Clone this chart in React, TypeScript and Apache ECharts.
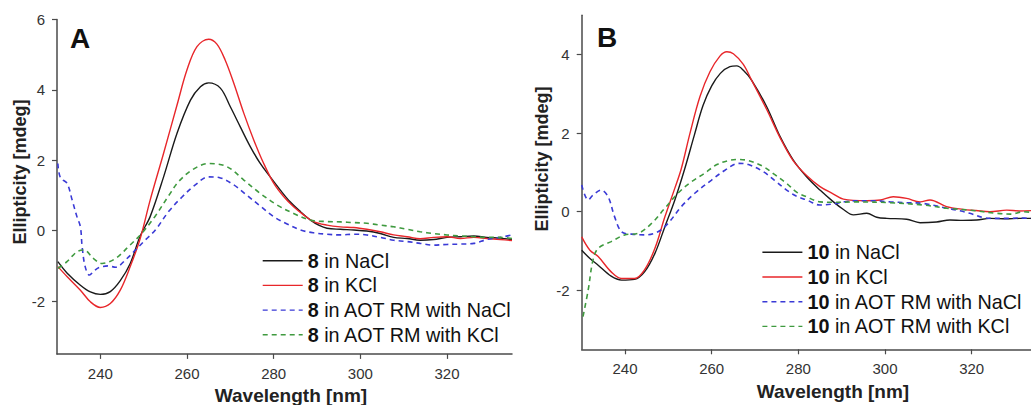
import React, { useEffect, useRef } from "react";
import * as echarts from "echarts";

// ---------- Panel A (compound 8) ----------
const wlA_NaCl = [230.2, 232.3, 235.4, 237.7, 240, 242.3, 244.6, 246.9, 249.2, 251.5, 254.6, 257.7, 260.8, 263.1, 265, 267.7, 270, 272.3, 274.6, 276.9, 279.2, 281.5, 283.8, 286.2, 288.5, 290.5, 292.3, 295.4, 298.5, 301.5, 304.6, 307.7, 310.8, 313.8, 316.9, 320, 323.1, 326.2, 329.2, 332.3, 335];
const valA_NaCl = [-0.88, -1.2, -1.55, -1.74, -1.81, -1.73, -1.42, -0.93, -0.15, 0.4, 1.53, 2.77, 3.71, 4.09, 4.2, 4.05, 3.52, 2.95, 2.39, 1.91, 1.53, 1.16, 0.82, 0.54, 0.3, 0.15, 0.07, 0.04, 0.02, -0.01, -0.08, -0.19, -0.22, -0.27, -0.25, -0.19, -0.17, -0.15, -0.19, -0.21, -0.25];

const wlA_KCl = [230.2, 232.3, 235.4, 237.7, 240, 242.3, 244.6, 246.9, 249.2, 251.5, 254.6, 257.7, 260, 262.3, 265, 266.9, 268.8, 270.8, 273.1, 275.4, 277.7, 280, 282.3, 284.6, 286.9, 289.2, 292.3, 295.4, 298.5, 301.5, 304.6, 307.7, 310.8, 313.8, 316.9, 320, 323.1, 326.2, 329.2, 332.3, 335];
const valA_KCl = [-1.02, -1.3, -1.69, -2.02, -2.18, -2.07, -1.69, -1.02, -0.22, 0.87, 2.2, 3.57, 4.57, 5.23, 5.44, 5.3, 4.85, 4.19, 3.34, 2.58, 1.91, 1.35, 0.97, 0.68, 0.45, 0.26, 0.16, 0.11, 0.09, 0.04, -0.03, -0.12, -0.17, -0.23, -0.19, -0.17, -0.22, -0.19, -0.22, -0.25, -0.28];

const wlA_AOTNaCl = [230.2, 230.8, 232.3, 233.5, 234.6, 235.4, 235.8, 236.5, 237.5, 238.5, 239.6, 241.9, 243.5, 245.8, 248.1, 250.4, 252.7, 255.8, 258.8, 261.9, 265, 267.7, 270.8, 273.8, 276.9, 280, 283.1, 286.2, 289.2, 292.3, 295.4, 298.5, 301.5, 304.6, 307.7, 310.8, 313.8, 316.9, 320, 323.1, 326.2, 329.2, 332.3, 335];
const valA_AOTNaCl = [1.91, 1.5, 1.35, 0.87, 0.4, 0.11, -0.45, -1.02, -1.26, -1.15, -1.05, -1.0, -1.04, -0.83, -0.55, -0.26, 0.02, 0.55, 0.95, 1.3, 1.53, 1.5, 1.3, 1.01, 0.7, 0.4, 0.19, 0.02, -0.06, -0.1, -0.12, -0.1, -0.12, -0.19, -0.27, -0.31, -0.36, -0.41, -0.39, -0.38, -0.36, -0.25, -0.19, -0.12];

const wlA_AOTKCl = [230.2, 232.3, 234.6, 236.2, 238.5, 240.4, 243.5, 246.5, 249.6, 252.7, 255.8, 258.1, 261.5, 265, 269.2, 273.1, 276.9, 280.8, 284.6, 288.5, 292.3, 295.4, 298.5, 301.5, 304.6, 307.7, 310.8, 313.8, 316.9, 320, 323.1, 326.2, 329.2, 332.3, 335];
const valA_AOTKCl = [-1.07, -0.88, -0.6, -0.55, -0.8, -0.93, -0.79, -0.45, -0.07, 0.42, 1.0, 1.4, 1.75, 1.91, 1.82, 1.44, 1.06, 0.73, 0.49, 0.3, 0.26, 0.25, 0.23, 0.21, 0.16, 0.11, 0.04, -0.03, -0.08, -0.12, -0.15, -0.17, -0.19, -0.19, -0.22];

// ---------- Panel B (compound 10) ----------
const wlB_NaCl = [230, 231.9, 233.8, 236.8, 239.2, 242.2, 244.5, 246.9, 249.2, 251.5, 253.8, 256, 258, 260, 262, 264.2, 265.8, 267.3, 269.2, 272.7, 275.8, 278.8, 281.9, 285, 288.1, 290.5, 292.7, 295.8, 298.1, 300.4, 305, 308.1, 311.9, 315, 318, 321.2, 324.2, 328, 331, 334];
const valB_NaCl = [-0.98, -1.19, -1.36, -1.64, -1.74, -1.72, -1.53, -1.06, -0.38, 0.3, 1.1, 1.95, 2.7, 3.2, 3.52, 3.69, 3.71, 3.6, 3.35, 2.67, 1.91, 1.32, 0.89, 0.55, 0.25, 0.05, -0.08, -0.04, -0.14, -0.17, -0.19, -0.28, -0.26, -0.21, -0.22, -0.21, -0.17, -0.18, -0.17, -0.17];

const wlB_KCl = [230, 231.9, 233.8, 236.8, 239.2, 242.2, 244.5, 246.9, 249.2, 251.5, 253, 255, 257.3, 259.6, 261.9, 263.5, 265, 267.3, 269.2, 272.7, 275.8, 278.8, 281.9, 285, 288.1, 290.4, 295.8, 299, 301.9, 305, 308.1, 310.4, 314.2, 318, 321, 324.2, 328.1, 331, 334];
const valB_KCl = [-0.64, -0.98, -1.14, -1.53, -1.7, -1.7, -1.48, -0.93, -0.13, 0.6, 1.1, 2.0, 2.93, 3.56, 3.96, 4.07, 4.02, 3.75, 3.35, 2.6, 1.88, 1.3, 0.92, 0.64, 0.45, 0.32, 0.28, 0.3, 0.38, 0.34, 0.25, 0.3, 0.13, 0.06, 0.03, 0.0, 0.04, 0.02, 0.03];

const wlB_AOTNaCl = [230, 231.5, 232.6, 234.5, 236.1, 237.6, 239.2, 241.5, 244.5, 247.6, 249.9, 253, 256.1, 259.9, 263, 266.2, 268.5, 271.9, 274.5, 277.3, 279.5, 281.9, 285, 288.1, 290.5, 293.5, 297, 301.2, 305, 308.9, 314.2, 317, 319.6, 322.7, 325, 328.1, 331, 334];
const valB_AOTNaCl = [0.68, 0.3, 0.42, 0.55, 0.38, -0.13, -0.51, -0.57, -0.59, -0.51, -0.3, 0.13, 0.47, 0.8, 1.05, 1.23, 1.2, 1.02, 0.8, 0.55, 0.4, 0.3, 0.17, 0.2, 0.25, 0.28, 0.28, 0.25, 0.23, 0.21, 0.09, 0.03, -0.04, -0.15, -0.17, -0.17, -0.16, -0.17];

const wlB_AOTKCl = [230.3, 231.5, 232.6, 233.8, 236.8, 239.9, 243, 246.1, 249.2, 252.2, 255.3, 258.4, 261.2, 264.2, 266.2, 268.5, 271.9, 274.5, 277.3, 279.6, 281.9, 285, 288, 293.5, 301.2, 308.9, 314.2, 319.6, 325.8, 329, 332, 334];
const valB_AOTKCl = [-2.67, -1.99, -1.23, -0.93, -0.76, -0.59, -0.55, -0.3, 0.09, 0.47, 0.76, 0.98, 1.2, 1.31, 1.33, 1.3, 1.15, 0.95, 0.72, 0.5, 0.38, 0.25, 0.24, 0.25, 0.23, 0.17, 0.09, 0.04, -0.04, -0.06, 0.0, -0.02];

const namesA = ["8 in NaCl", "8 in KCl", "8 in AOT RM with NaCl", "8 in AOT RM with KCl"];
const namesB = ["10 in NaCl", "10 in KCl", "10 in AOT RM with NaCl", "10 in AOT RM with KCl"];
const xTicks = [240, 260, 280, 300, 320];
const yTicksA = [-2, 0, 2, 4, 6];
const yTicksB = [-2, 0, 2, 4];

const FONT = "'Liberation Sans', Arial, Helvetica, sans-serif";
const AXIS_COLOR = "#4a4a4a";
const COLORS = ["#1a1a1a", "#e8262a", "#3a3ad6", "#3f9a3f"];

const pair = (wl: number[], v: number[]) => wl.map((x, i) => [x, v[i]]);

export default function App() {
  const ref = useRef<HTMLDivElement>(null);
  useEffect(() => {
    if (!ref.current) return;
    const chart = echarts.init(ref.current, undefined, { renderer: "svg" });

    const xAxisBase = (gridIndex: number, min: number, max: number) => ({
      type: "value",
      gridIndex,
      min,
      max,
      splitLine: { show: false },
      axisLine: { onZero: false, lineStyle: { color: AXIS_COLOR, width: 1.5 } },
      axisTick: { customValues: xTicks, length: 5, lineStyle: { color: AXIS_COLOR, width: 1.2 } },
      axisLabel: { customValues: xTicks, margin: 12, fontSize: 15, color: "#333", fontFamily: FONT },
    });
    const yAxisBase = (gridIndex: number, min: number, max: number, ticks: number[]) => ({
      type: "value",
      gridIndex,
      min,
      max,
      splitLine: { show: false },
      axisLine: { show: true, onZero: false, lineStyle: { color: AXIS_COLOR, width: 1.5 } },
      axisTick: { show: true, customValues: ticks, length: 5, lineStyle: { color: AXIS_COLOR, width: 1.2 } },
      axisLabel: { customValues: ticks, margin: 12, fontSize: 15, color: "#333", fontFamily: FONT },
    });

    const mk = (name: string, data: number[][], idx: number, k: number) => ({
      name,
      type: "line",
      xAxisIndex: idx,
      yAxisIndex: idx,
      data,
      smooth: 0.35,
      symbol: "none",
      clip: true,
      lineStyle: k < 2
        ? { color: COLORS[k], width: 1.4 }
        : { color: COLORS[k], width: 1.6, type: [5, 4] },
      itemStyle: { color: COLORS[k] },
    });

    const fmt = (name: string) => {
      const sp = name.indexOf(" ");
      return `{b|${name.slice(0, sp)}}{n|${name.slice(sp)}}`;
    };
    const rich = {
      b: { fontWeight: "bold", fontSize: 19.8, lineHeight: 20, color: "#111", fontFamily: FONT },
      n: { fontSize: 19.8, lineHeight: 20, color: "#111", fontFamily: FONT },
    };
    const legendBase = (names: string[], left: number, top: number) => ({
      data: names,
      orient: "vertical",
      left,
      top,
      itemWidth: 40,
      itemHeight: 14,
      itemGap: 4.7,
      padding: 0,
      formatter: fmt,
      itemStyle: { color: "rgba(0,0,0,0)", borderWidth: 0, opacity: 0 },
      lineStyle: { width: 1.4 },
      textStyle: { rich, fontSize: 19.8, fontFamily: FONT },
      selectedMode: false,
    });

    const option = {
      animation: false,
      backgroundColor: "#fff",
      grid: [
        { left: 57, top: 19.5, width: 455, height: 334.4 },
        { left: 581.7, top: 15.2, width: 449.3, height: 334.1 },
      ],
      xAxis: [xAxisBase(0, 230, 335), xAxisBase(1, 230, 333.7)],
      yAxis: [yAxisBase(0, -3.5, 6, yTicksA), yAxisBase(1, -3.5, 5, yTicksB)],
      legend: [legendBase(namesA, 262, 250.7), legendBase(namesB, 761.7, 242.3)],
      series: [
        mk(namesA[0], pair(wlA_NaCl, valA_NaCl), 0, 0),
        mk(namesA[1], pair(wlA_KCl, valA_KCl), 0, 1),
        mk(namesA[2], pair(wlA_AOTNaCl, valA_AOTNaCl), 0, 2),
        mk(namesA[3], pair(wlA_AOTKCl, valA_AOTKCl), 0, 3),
        mk(namesB[0], pair(wlB_NaCl, valB_NaCl), 1, 0),
        mk(namesB[1], pair(wlB_KCl, valB_KCl), 1, 1),
        mk(namesB[2], pair(wlB_AOTNaCl, valB_AOTNaCl), 1, 2),
        mk(namesB[3], pair(wlB_AOTKCl, valB_AOTKCl), 1, 3),
      ],
      graphic: [
        { type: "text", x: 70, y: 38, style: { text: "A", font: `bold 28px ${FONT}`, fill: "#111", textVerticalAlign: "middle" } },
        { type: "text", x: 597, y: 37, style: { text: "B", font: `bold 28px ${FONT}`, fill: "#111", textVerticalAlign: "middle" } },
        { type: "text", x: 20, y: 172, rotation: Math.PI / 2, style: { text: "Ellipticity [mdeg]", font: `bold 18px ${FONT}`, fill: "#222", textAlign: "center", textVerticalAlign: "middle" } },
        { type: "text", x: 541.5, y: 159, rotation: Math.PI / 2, style: { text: "Ellipticity [mdeg]", font: `bold 18px ${FONT}`, fill: "#222", textAlign: "center", textVerticalAlign: "middle" } },
        { type: "text", x: 291, y: 395, style: { text: "Wavelength [nm]", font: `bold 19px ${FONT}`, fill: "#222", textAlign: "center", textVerticalAlign: "middle" } },
        { type: "text", x: 833, y: 391, style: { text: "Wavelength [nm]", font: `bold 19px ${FONT}`, fill: "#222", textAlign: "center", textVerticalAlign: "middle" } },
      ],
    };
    chart.setOption(option as any);
    return () => chart.dispose();
  }, []);
  return (
    <div
      ref={ref}
      style={{ position: "absolute", left: 0, top: 0, width: 1031, height: 405 }}
    />
  );
}
